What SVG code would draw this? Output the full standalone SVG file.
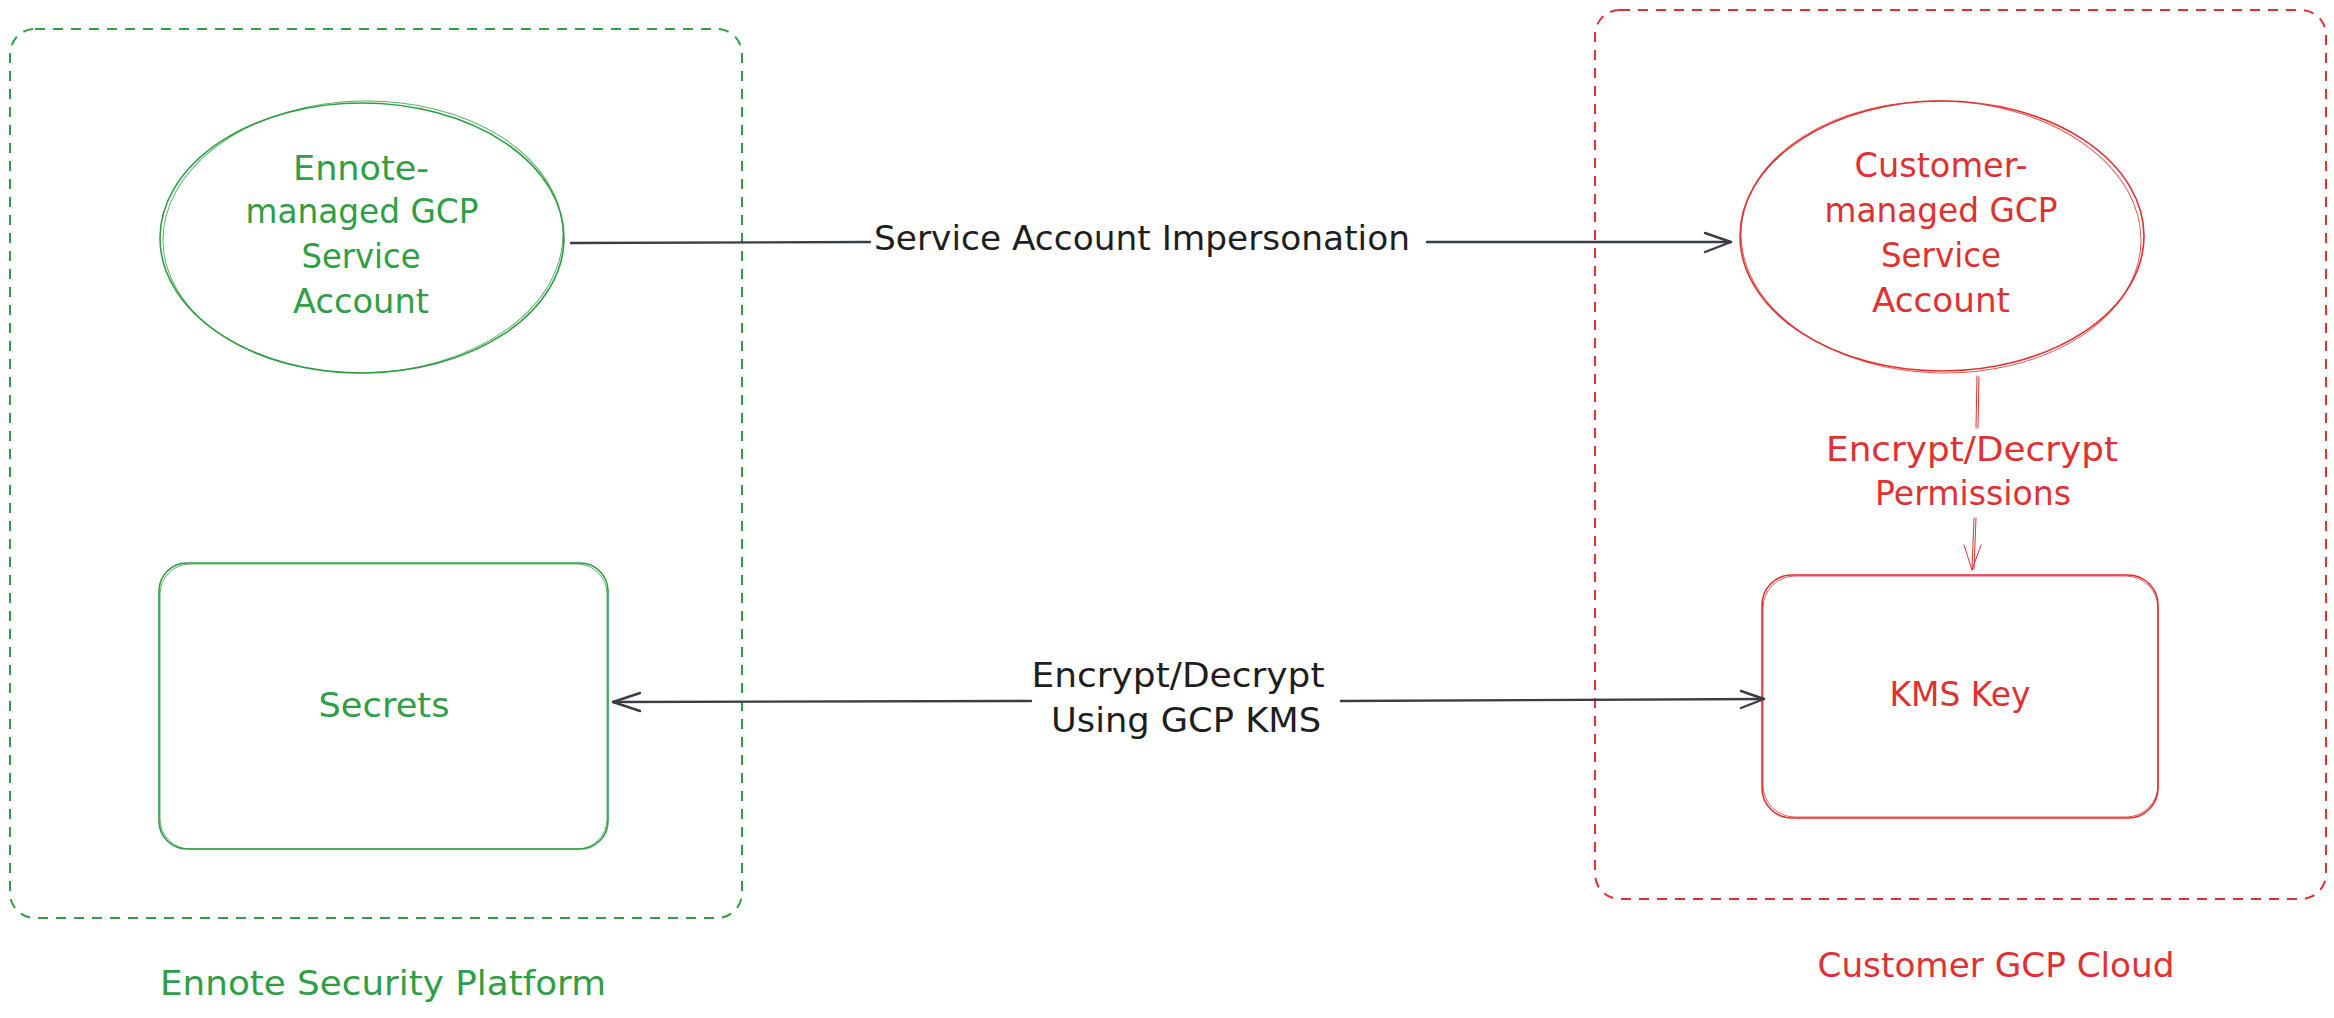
<svg xmlns="http://www.w3.org/2000/svg" width="2334" height="1018" viewBox="0 0 2334 1018">
  <style>
    text { font-family: "DejaVu Sans", "Liberation Sans", sans-serif; font-size: 34px; text-anchor: middle; }
    .g { fill: #2f9e44; }
    .r { fill: #e03131; }
    .k { fill: #1e1e1e; }
    .cont { fill: none; stroke-width: 2; stroke-dasharray: 10 8; }
    .gs { fill: none; stroke: #2f9e44; stroke-width: 1.6; }
    .gs2 { fill: none; stroke: #2f9e44; stroke-width: 1; opacity: 0.8; }
    .rs { fill: none; stroke: #e03131; stroke-width: 1.6; }
    .rs2 { fill: none; stroke: #e03131; stroke-width: 1; opacity: 0.8; }
    .ln { fill: none; stroke: #3a3d42; stroke-width: 2.4; stroke-linecap: round; stroke-linejoin: round; }
    .lnr { fill: none; stroke: #e03131; stroke-width: 1; stroke-linecap: round; stroke-linejoin: round; }
  </style>

  <g id="ennote-platform">
    <rect class="cont" x="10" y="29" width="732" height="889" rx="25" stroke="#2f9e44"/>
    <text class="g" x="383" y="995" textLength="446" lengthAdjust="spacingAndGlyphs">Ennote Security Platform</text>
  </g>

  <g id="customer-cloud">
    <rect class="cont" x="1595" y="10" width="731" height="889" rx="25" stroke="#e03131"/>
    <text class="r" x="1996" y="977" textLength="357" lengthAdjust="spacingAndGlyphs">Customer GCP Cloud</text>
  </g>

  <g id="ennote-sa">
    <ellipse class="gs" cx="362" cy="238" rx="202" ry="135"/>
    <ellipse class="gs2" cx="363" cy="237" rx="200" ry="136" transform="rotate(-1.5 363 237)"/>
    <text class="g" x="361" y="180" textLength="136" lengthAdjust="spacingAndGlyphs">Ennote-</text>
    <text class="g" x="362" y="223" textLength="233" lengthAdjust="spacingAndGlyphs">managed GCP</text>
    <text class="g" x="361" y="268" textLength="119" lengthAdjust="spacingAndGlyphs">Service</text>
    <text class="g" x="361" y="313" textLength="136" lengthAdjust="spacingAndGlyphs">Account</text>
  </g>

  <g id="customer-sa">
    <ellipse class="rs" cx="1942" cy="236" rx="202" ry="135"/>
    <ellipse class="rs2" cx="1941" cy="237" rx="200" ry="136" transform="rotate(1.5 1941 237)"/>
    <text class="r" x="1941" y="177" textLength="173" lengthAdjust="spacingAndGlyphs">Customer-</text>
    <text class="r" x="1941" y="222" textLength="233" lengthAdjust="spacingAndGlyphs">managed GCP</text>
    <text class="r" x="1941" y="267" textLength="120" lengthAdjust="spacingAndGlyphs">Service</text>
    <text class="r" x="1941" y="312" textLength="138" lengthAdjust="spacingAndGlyphs">Account</text>
  </g>

  <g id="secrets">
    <rect class="gs" x="159" y="563" width="449" height="286" rx="28"/>
    <rect class="gs2" x="160" y="564" width="447" height="285" rx="30"/>
    <text class="g" x="384" y="717" textLength="131" lengthAdjust="spacingAndGlyphs">Secrets</text>
  </g>

  <g id="kms-key">
    <rect class="rs" x="1762" y="575" width="396" height="243" rx="30"/>
    <rect class="rs2" x="1763" y="576" width="395" height="241" rx="32"/>
    <text class="r" x="1960" y="706" textLength="141" lengthAdjust="spacingAndGlyphs">KMS Key</text>
  </g>

  <g id="connectors">
    <path class="ln" d="M571,243 L870,242 M1427,242 L1731,242"/>
    <path class="ln" d="M1705,233 L1731,242 L1705,252"/>
    <text class="k" x="1142" y="250" textLength="536" lengthAdjust="spacingAndGlyphs">Service Account Impersonation</text>

    <path class="ln" d="M613,702 L1031,701 M1341,701 L1764,699"/>
    <path class="ln" d="M640,693 L613,702 L640,711"/>
    <path class="ln" d="M1741,691 L1764,699 L1741,708"/>
    <text class="k" x="1178" y="687" textLength="293" lengthAdjust="spacingAndGlyphs">Encrypt/Decrypt</text>
    <text class="k" x="1186" y="732" textLength="270" lengthAdjust="spacingAndGlyphs">Using GCP KMS</text>

    <path class="lnr" d="M1977,376 L1976,428 M1974,518 L1972,570 M1979,377 L1978,428 M1976,518 L1974,569"/>
    <path class="lnr" d="M1964,545 L1972,570 L1981,545"/>
    <text class="r" x="1972" y="461" textLength="292" lengthAdjust="spacingAndGlyphs">Encrypt/Decrypt</text>
    <text class="r" x="1973" y="505" textLength="196" lengthAdjust="spacingAndGlyphs">Permissions</text>
  </g>
</svg>
